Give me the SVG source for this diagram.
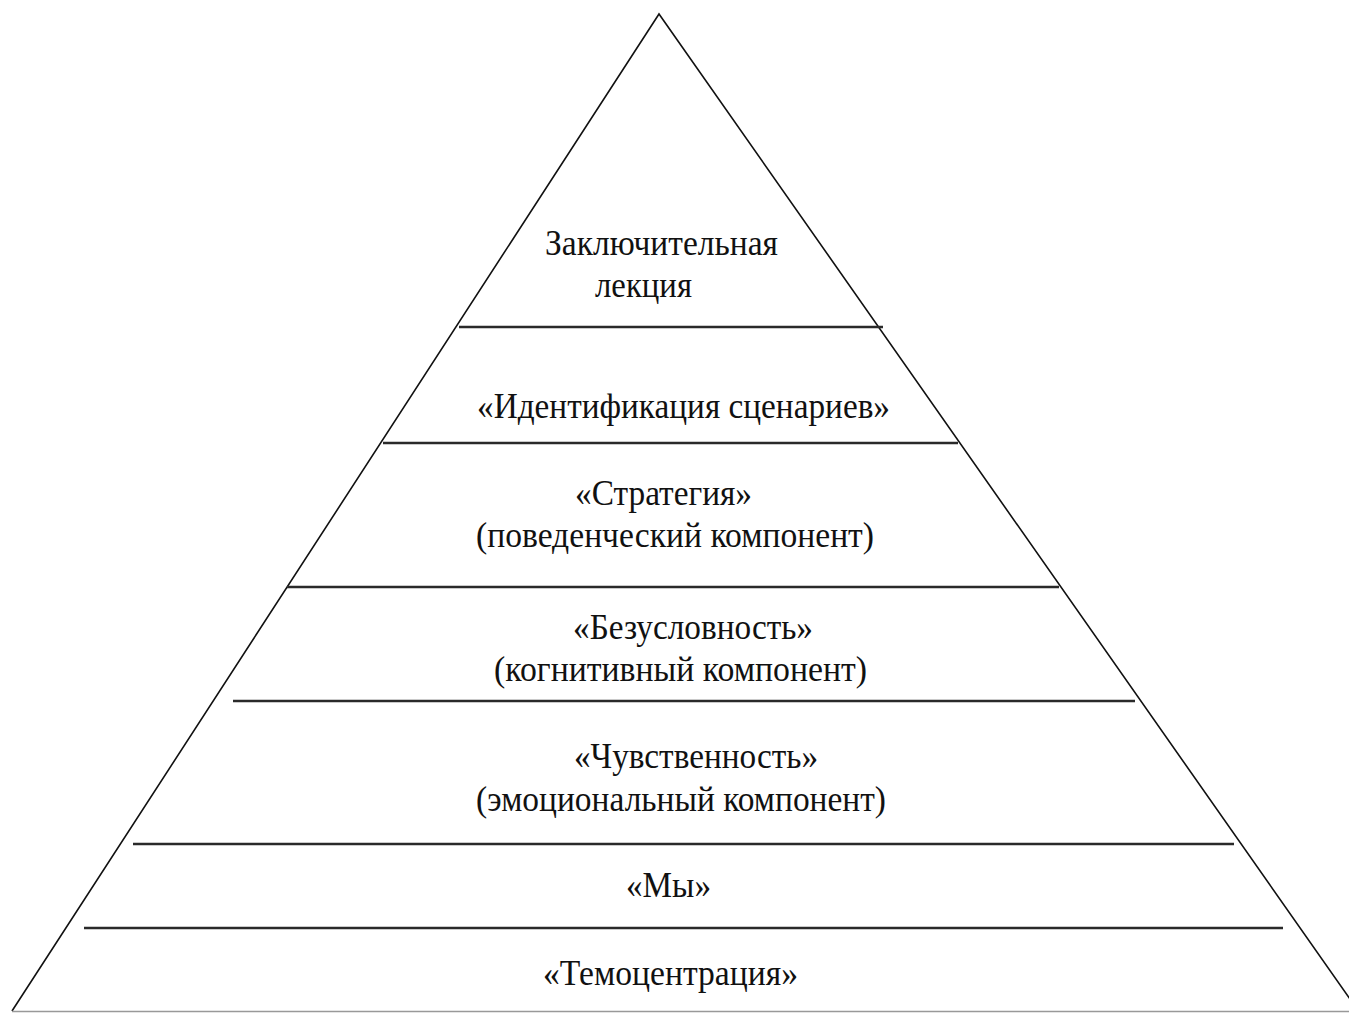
<svg xmlns="http://www.w3.org/2000/svg" width="1349" height="1013" viewBox="0 0 1349 1013">
<style>
.side{fill:none;stroke:#111;stroke-width:1.6}
.tier{stroke:#2a2a2a;stroke-width:2.6}
.base{stroke:#999;stroke-width:1.5}
text{font-family:"Liberation Serif","Times New Roman",serif;font-size:36px;fill:#111}
</style>
<rect width="1349" height="1013" fill="#fff"/>
<g id="pyramid">
<polyline class="side" points="12,1011 659,14 1352,1002"/>
<line class="base" x1="12" y1="1011.5" x2="1349" y2="1011.5"/>
</g>
<g id="dividers">
<line class="tier" x1="459" y1="327" x2="883" y2="327"/>
<line class="tier" x1="383" y1="443" x2="958" y2="443"/>
<line class="tier" x1="287" y1="587" x2="1059" y2="587"/>
<line class="tier" x1="233" y1="701" x2="1135" y2="701"/>
<line class="tier" x1="133" y1="844" x2="1234" y2="844"/>
<line class="tier" x1="84" y1="928" x2="1283" y2="928"/>
</g>
<g id="tier1">
<text x="545" y="255" textLength="233" lengthAdjust="spacingAndGlyphs">Заключительная</text>
<text x="595" y="297" textLength="97" lengthAdjust="spacingAndGlyphs">лекция</text>
</g>
<g id="tier2">
<text x="477" y="418" textLength="413" lengthAdjust="spacingAndGlyphs">«Идентификация сценариев»</text>
</g>
<g id="tier3">
<text x="575" y="505" textLength="177" lengthAdjust="spacingAndGlyphs">«Стратегия»</text>
<text x="476" y="547" textLength="398" lengthAdjust="spacingAndGlyphs">(поведенческий компонент)</text>
</g>
<g id="tier4">
<text x="573" y="639" textLength="240" lengthAdjust="spacingAndGlyphs">«Безусловность»</text>
<text x="494" y="681" textLength="373" lengthAdjust="spacingAndGlyphs">(когнитивный компонент)</text>
</g>
<g id="tier5">
<text x="574" y="768" textLength="244" lengthAdjust="spacingAndGlyphs">«Чувственность»</text>
<text x="476" y="811" textLength="410" lengthAdjust="spacingAndGlyphs">(эмоциональный компонент)</text>
</g>
<g id="tier6">
<text x="626" y="897" textLength="85" lengthAdjust="spacingAndGlyphs">«Мы»</text>
</g>
<g id="tier7">
<text x="543" y="985" textLength="255" lengthAdjust="spacingAndGlyphs">«Темоцентрация»</text>
</g>
</svg>
